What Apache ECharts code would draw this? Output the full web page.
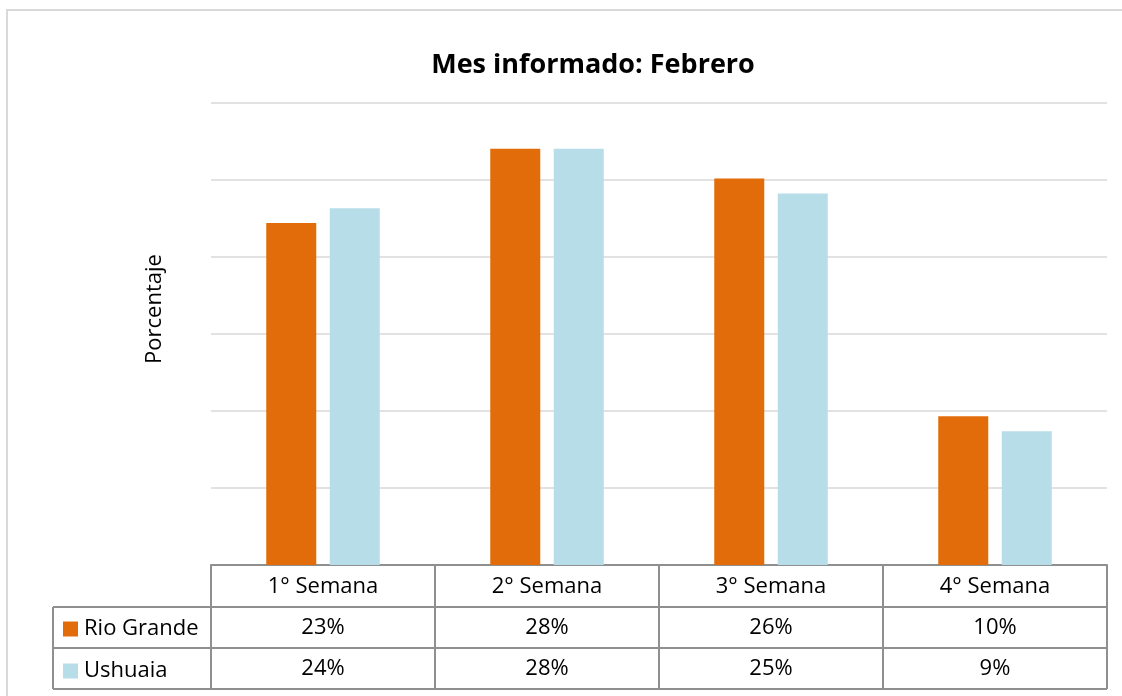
<!DOCTYPE html>
<html>
<head>
<meta charset="utf-8">
<script src="https://cdn.jsdelivr.net/npm/echarts@6/dist/echarts.min.js"></script>
<style>
html,body{margin:0;padding:0;background:#fff;}
#chart{width:1122px;height:696px;}
</style>
</head>
<body>
<div id="chart"></div>
<script>
// ---- data ----
const chartTitle = 'Mes informado: Febrero';
const yAxisTitle = 'Porcentaje';
const categories = ['1° Semana', '2° Semana', '3° Semana', '4° Semana'];
const seriesNames = ['Rio Grande', 'Ushuaia'];
const rioGrande = [0.23, 0.28, 0.26, 0.10];
const ushuaia = [0.24, 0.28, 0.25, 0.09];
const seriesColors = ['#E36C0A', '#B7DDE8'];

// ---- layout ----
const FONT = 'Open Sans';
const TXT = 22;
const gridLeft = 211, gridRight = 15, gridTop = 103, gridBottom = 131;
const W = 1122, H = 696;
const axisY = H - gridBottom;          // 565
const rowH = 41;
const row1 = axisY + 42, row2 = row1 + rowH, row3 = row2 + rowH;
const tableLeft = 53;
const lineColor = '#8f8f8f';

const pct = v => Math.round(v * 100) + '%';

const chart = echarts.init(document.getElementById('chart'));
const option = {
  backgroundColor: '#fff',
  animation: false,
  title: {
    text: chartTitle,
    left: 588,
    textAlign: 'center',
    top: 47,
    textStyle: { fontFamily: FONT, fontSize: 27, fontWeight: 'bold', color: '#000' }
  },
  legend: {
    orient: 'vertical',
    left: 63,
    top: 618,
    padding: 0,
    itemWidth: 15,
    itemHeight: 15,
    itemGap: 20,
    icon: 'rect',
    selectedMode: false,
    textStyle: { fontFamily: FONT, fontSize: TXT, lineHeight: 20, color: '#000', padding: [0, 0, 0, 1] },
    data: seriesNames
  },
  grid: { left: gridLeft, right: gridRight, top: gridTop, bottom: gridBottom, containLabel: false },
  xAxis: {
    type: 'category',
    data: categories,
    axisLine: { show: true, lineStyle: { color: lineColor, width: 2 } },
    axisTick: { show: true, alignWithLabel: false, length: row3 - axisY, lineStyle: { color: lineColor, width: 2 } },
    axisLabel: {
      margin: 1,
      interval: 0,
      formatter: (value, idx) => `{h|${value}}\n{v|${pct(rioGrande[idx])}}\n{v|${pct(ushuaia[idx])}}`,
      rich: {
        h: { fontFamily: FONT, fontSize: TXT, lineHeight: rowH, color: '#000', align: 'center' },
        v: { fontFamily: FONT, fontSize: TXT, lineHeight: rowH, color: '#000', align: 'center' }
      }
    }
  },
  yAxis: {
    type: 'value',
    min: 0,
    max: 0.3108,
    interval: 0.0518,
    axisLabel: { show: false },
    axisLine: { show: false },
    axisTick: { show: false },
    splitLine: { show: true, lineStyle: { color: '#d9d9d9', width: 1.5 } }
  },
  series: [
    { name: seriesNames[0], type: 'bar', data: rioGrande, barWidth: 50, barGap: '27%', itemStyle: { color: seriesColors[0] } },
    { name: seriesNames[1], type: 'bar', data: ushuaia, barWidth: 50, barGap: '27%', itemStyle: { color: seriesColors[1] } }
  ],
  graphic: [
    { type: 'rect', silent: true, shape: { x: 7, y: 10, width: 1300, height: 900 }, style: { fill: 'none', stroke: '#d9d9d9', lineWidth: 2 } },
    { type: 'text', silent: true, x: 155, y: 309, rotation: Math.PI / 2,
      style: { text: yAxisTitle, fontFamily: FONT, fontSize: TXT, fill: '#000', align: 'center', verticalAlign: 'middle' } },
    { type: 'line', silent: true, shape: { x1: tableLeft, y1: row1, x2: W - gridRight, y2: row1 }, style: { stroke: lineColor, lineWidth: 2 } },
    { type: 'line', silent: true, shape: { x1: tableLeft, y1: row2, x2: W - gridRight, y2: row2 }, style: { stroke: lineColor, lineWidth: 2 } },
    { type: 'line', silent: true, shape: { x1: tableLeft, y1: row3, x2: W - gridRight, y2: row3 }, style: { stroke: lineColor, lineWidth: 2 } },
    { type: 'line', silent: true, shape: { x1: tableLeft, y1: row1, x2: tableLeft, y2: row3 }, style: { stroke: lineColor, lineWidth: 2 } }
  ]
};
chart.setOption(option);
</script>
</body>
</html>
